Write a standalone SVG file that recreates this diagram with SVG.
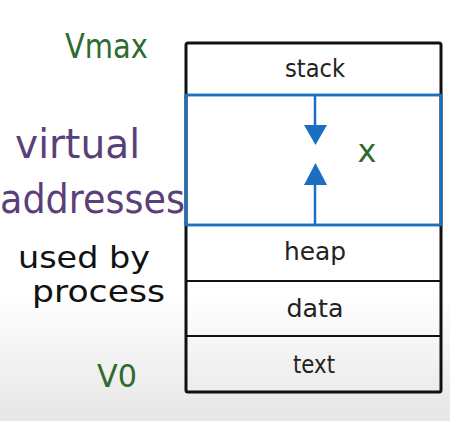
<svg xmlns="http://www.w3.org/2000/svg" width="450" height="421" viewBox="0 0 450 421">
<defs>
<linearGradient id="bg" x1="0" y1="0" x2="0" y2="1">
<stop offset="0.7" stop-color="#ffffff"/>
<stop offset="1" stop-color="#e6e6e6"/>
</linearGradient>
<style>
.seg{font-family:"DejaVu Sans","Liberation Sans",sans-serif;font-size:24px;fill:#222;text-anchor:middle}
.hand{font-family:"DejaVu Sans","Liberation Sans",sans-serif}
.div{stroke:#111;stroke-width:2}
.blue{stroke:#1a6fc2;stroke-width:2.5;fill:none}
</style>
</defs>
<rect width="450" height="421" fill="url(#bg)"/>
<g id="labels">
<text class="hand" x="65" y="58" font-size="34" fill="#2e6b2e" textLength="83" lengthAdjust="spacingAndGlyphs">Vmax</text>
<text class="hand" x="15" y="158" font-size="40" fill="#5b3f7a" textLength="125" lengthAdjust="spacingAndGlyphs">virtual</text>
<text class="hand" x="0" y="213" font-size="40" fill="#5b3f7a" textLength="185" lengthAdjust="spacingAndGlyphs">addresses</text>
<text class="hand" x="18" y="268" font-size="30" fill="#111" textLength="132" lengthAdjust="spacingAndGlyphs">used by</text>
<text class="hand" x="32" y="302" font-size="30" fill="#111" textLength="133" lengthAdjust="spacingAndGlyphs">process</text>
<text class="hand" x="97" y="387" font-size="32" fill="#2e6b2e" textLength="40" lengthAdjust="spacingAndGlyphs">V0</text>
</g>
<g id="stack"><rect x="186" y="43" width="255" height="52" fill="none"/><text class="seg" x="315" y="77" textLength="60" lengthAdjust="spacingAndGlyphs">stack</text></g>
<g id="gap"><rect class="blue" x="186" y="95" width="255" height="130"/><text x="367" y="162" font-family="DejaVu Sans,sans-serif" font-size="32" fill="#2e6b2e" text-anchor="middle">x</text></g>
<g id="heap"><text class="seg" x="315" y="260" textLength="62" lengthAdjust="spacingAndGlyphs">heap</text></g>
<g id="data"><text class="seg" x="315" y="317" textLength="57" lengthAdjust="spacingAndGlyphs">data</text></g>
<g id="text"><text class="seg" x="314" y="373" textLength="42" lengthAdjust="spacingAndGlyphs">text</text></g>
<g id="connectors">
<line class="blue" x1="315" y1="95" x2="315" y2="128"/>
<polygon points="304,125 327,125 315.5,145" fill="#1a6fc2"/>
<line class="blue" x1="315" y1="225" x2="315" y2="182"/>
<polygon points="304,185 327,185 315.5,163" fill="#1a6fc2"/>
</g>
<g id="frame">
<line class="div" x1="186" y1="281" x2="441" y2="281"/>
<line class="div" x1="186" y1="336" x2="441" y2="336"/>
<rect x="186" y="43" width="255" height="349" rx="2" fill="none" stroke="#111" stroke-width="3"/>
<rect class="blue" x="186" y="95" width="255" height="130"/>
</g>
</svg>
